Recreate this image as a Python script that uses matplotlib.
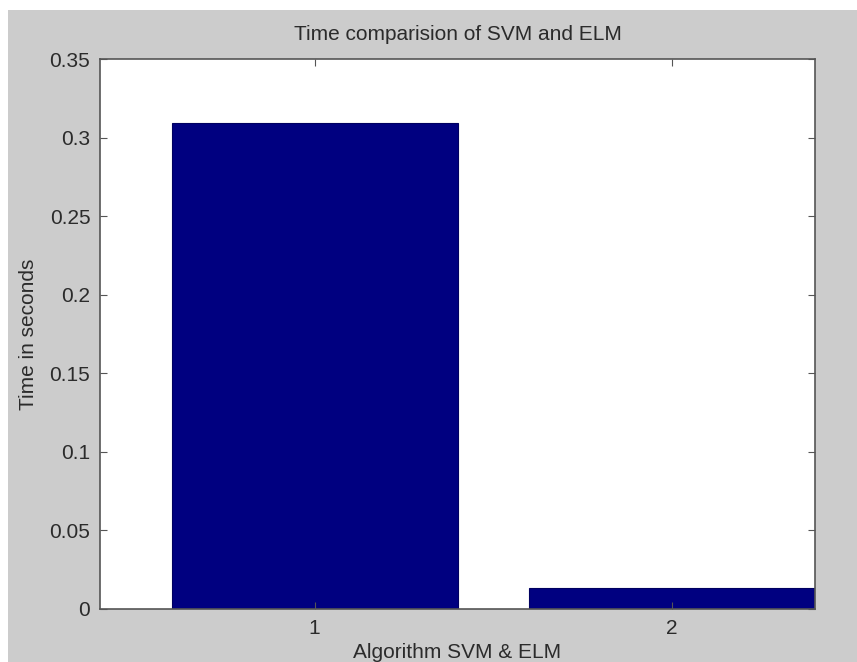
import matplotlib.pyplot as plt
from matplotlib.patches import Rectangle

# data
algorithms = [1, 2]
times = [0.309, 0.0132]
yticks = [0, 0.05, 0.1, 0.15, 0.2, 0.25, 0.3, 0.35]
ytick_labels = ['0', '0.05', '0.1', '0.15', '0.2', '0.25', '0.3', '0.35']

plt.rcParams['font.family'] = ['Liberation Sans', 'DejaVu Sans']
txt = '#2b2b2b'

fig = plt.figure(figsize=(8.57, 6.62), dpi=100, facecolor='#cccccc')
# white margins at top and left of the screenshot
fig.patches.append(Rectangle((0, 1 - 10/662), 1, 10/662, transform=fig.transFigure,
                             facecolor='white', edgecolor='none', zorder=0))
fig.patches.append(Rectangle((0, 0), 8/857, 1, transform=fig.transFigure,
                             facecolor='white', edgecolor='none', zorder=0))

ax = fig.add_axes([100/857, 53/662, 715/857, 550/662])
ax.bar(algorithms, times, width=0.8, color='#000080', edgecolor='#000060', linewidth=0.8)

ax.set_xlim(0.4, 2.4)
ax.set_ylim(0, 0.35)
ax.set_xticks(algorithms)
ax.set_xticklabels(['1', '2'])
ax.set_yticks(yticks)
ax.set_yticklabels(ytick_labels)

ax.tick_params(direction='in', top=True, right=True, length=5, width=0.8,
               colors='#555555', labelcolor=txt, labelsize=15, pad=7)
for s in ax.spines.values():
    s.set_color('#555555')
    s.set_linewidth(1.2)

ax.set_title('Time comparision of SVM and ELM', fontsize=15, color=txt, pad=14)
ax.set_xlabel('Algorithm SVM & ELM', fontsize=15, color=txt, labelpad=4)
ax.set_ylabel('Time in seconds', fontsize=15, color=txt, labelpad=8)

fig.savefig('out.png', dpi=100, facecolor=fig.get_facecolor())
